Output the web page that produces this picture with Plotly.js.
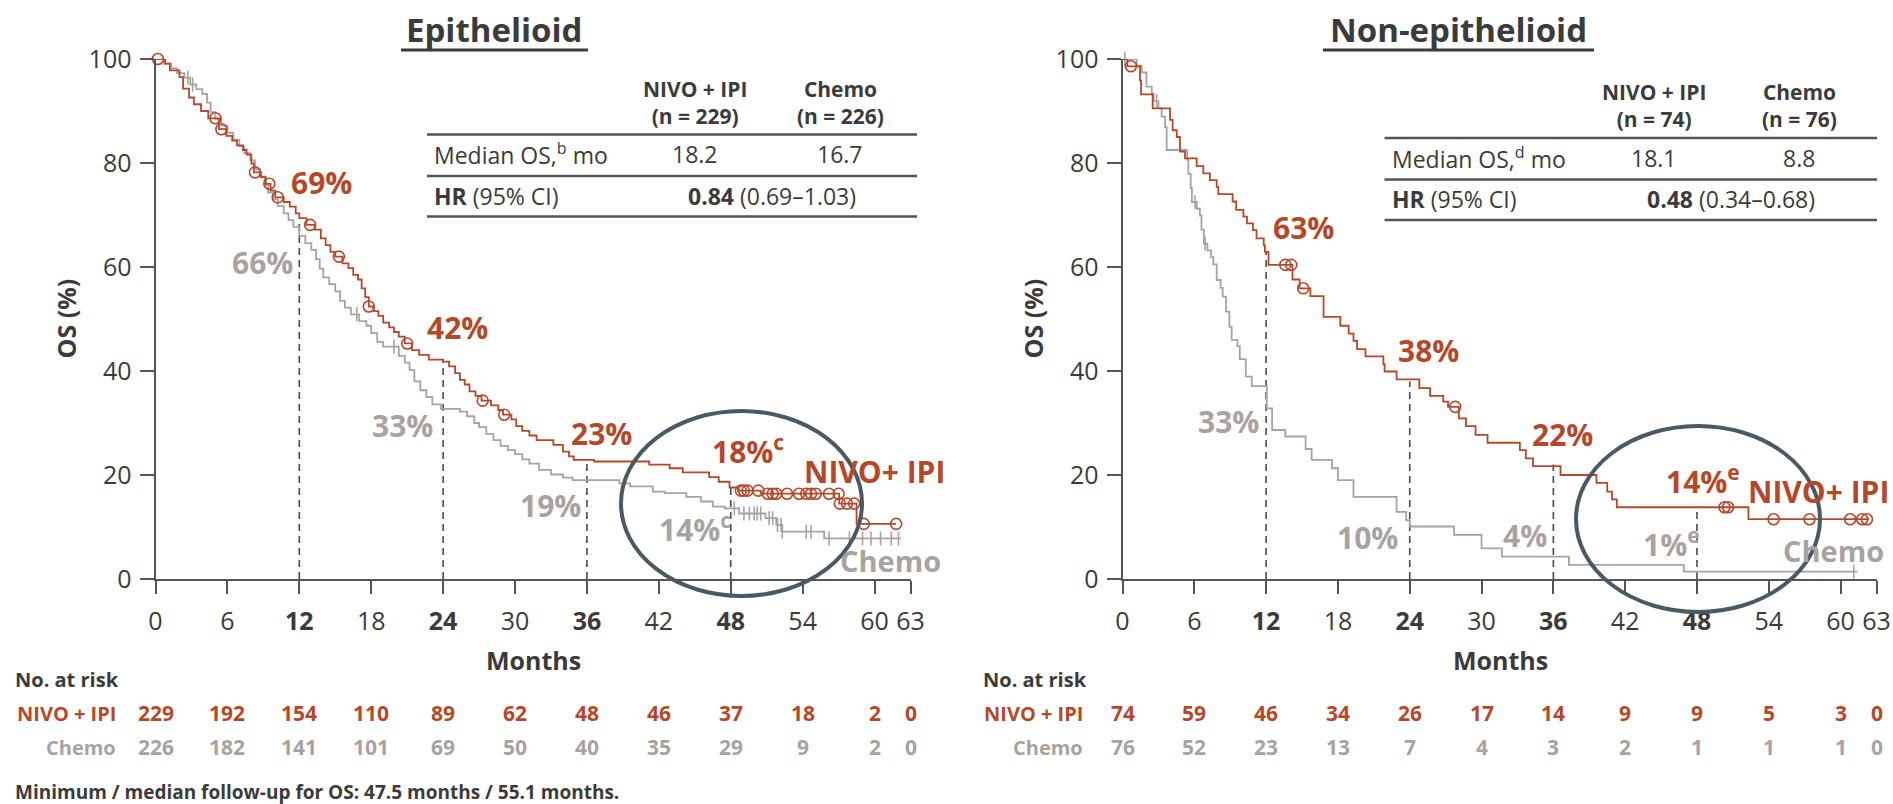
<!DOCTYPE html>
<html><head><meta charset="utf-8">
<script src="https://cdn.plot.ly/plotly-3.0.1.min.js"></script>
<style>html,body{margin:0;padding:0;background:#fff;overflow:hidden}#chart{width:1893px;height:804px}</style>
</head><body><div id="chart"></div>
<script>
// ---------------- DATA ----------------
// Epithelioid – NIVO + IPI (KM step points: month, OS %)
const epiNivoT = [0,0.8,1.2,2.0,2.3,2.8,3.2,3.8,4.4,5.3,5.9,6.4,6.8,7.3,7.6,8.0,8.2,8.8,9.2,9.6,10.0,10.7,11.2,11.7,12.0,12.6,13.3,13.8,14.2,14.6,15.0,15.6,16.1,16.5,16.9,17.2,17.5,17.8,18.2,18.6,19.0,19.5,19.9,20.3,20.8,21.4,22.0,22.8,24.0,24.5,25.0,25.4,25.8,26.2,26.7,27.2,28.0,28.6,29.0,29.7,30.1,30.6,31.2,31.8,33.2,34.0,34.5,34.9,36.6,41.2,42.9,44.0,46.2,47.0,47.9,48.6,50.5,57.05,58.5,61.8];
const epiNivoS = [100,99.1,97.8,96.5,94.3,92.6,91.3,90.0,88.6,86.5,85.2,84.3,83.4,82.5,81.6,79.9,78.2,77.3,76.0,74.7,73.4,72.5,71.6,70.3,69.4,68.1,67.2,65.5,64.2,62.9,62.0,60.7,59.8,58.5,57.6,55.9,54.2,52.4,51.5,50.6,49.3,48.4,47.5,46.6,45.3,44.0,43.1,42.2,41.8,40.9,39.6,38.3,37.4,36.1,35.2,34.3,33.4,32.5,31.6,30.7,29.4,28.5,27.6,26.7,25.8,24.5,23.6,22.9,22.6,22.0,21.3,20.5,19.6,18.7,17.6,17.0,16.4,14.5,10.6,10.6];
const epiNivoCensor = [0.2,5.0,5.5,8.3,9.5,10.2,12.9,15.3,17.8,21.0,27.3,29.1,48.85,49.1,49.4,50.3,51.1,51.5,51.8,52.7,53.7,54.3,54.7,55.1,56.2,57.0,57.1,57.7,58.3,59.1,61.8];

// Epithelioid – Chemo
const epiChemoT = [0,0.7,1.3,1.8,2.4,2.9,3.4,3.9,4.3,4.6,5.0,5.5,6.0,6.5,7.0,7.4,7.9,8.3,8.7,9.1,9.4,9.8,10.2,10.7,11.1,11.5,12.0,12.5,13.0,13.4,13.7,14.0,14.5,15.0,15.4,15.8,16.3,17.0,17.6,18.0,18.5,19.0,20.3,20.8,21.2,21.6,22.1,22.6,23.1,23.8,25.4,26.0,26.6,27.0,27.6,28.2,28.8,29.4,30.0,30.6,31.2,32.0,33.0,34.0,34.8,38.7,39.6,41.5,42.5,44.3,45.5,46.5,47.5,48.7,50.9,51.8,52.3,55.8,62.2];
const epiChemoS = [100,99.1,98.2,97.3,96.4,95.1,94.2,93.3,91.6,89.8,88.5,87.2,85.8,84.5,83.2,81.9,80.5,78.8,77.4,75.7,74.3,73.0,71.7,70.3,69.0,67.7,66.0,64.6,63.3,61.5,59.7,58.0,56.7,55.3,53.5,52.2,50.9,49.6,48.7,47.3,45.6,44.7,42.9,41.6,40.2,38.0,36.3,35.0,33.6,32.7,32.2,31.3,30.0,29.2,27.9,26.7,25.6,24.8,24.0,23.0,22.2,21.0,20.1,19.5,19.0,18.4,17.8,16.8,16.5,15.8,14.9,13.9,13.6,12.6,11.7,10.4,9.1,7.8,7.8];
const epiChemoCensor = [2.7,3.1,16.8,19.9,48.3,49.1,49.55,49.96,50.2,50.5,51.2,51.5,51.9,52.2,52.3,54.3,54.7,56.2,57.9,59.0,59.7,60.5,61.4,62.0];

// Non-epithelioid – NIVO + IPI
const nonNivoT = [0,0.4,1.46,1.55,2.52,3.97,4.19,4.53,4.8,5.22,6.2,6.75,7.3,7.87,8.0,9.2,9.5,10.1,10.4,10.9,11.2,11.8,11.9,12.2,14.2,14.8,15.7,16.8,18.2,18.9,19.3,19.6,20.3,21.8,21.9,22.9,24.8,25.7,26.8,27.2,28.1,28.7,29.5,30.5,33.2,33.7,34.3,36.6,39.6,40.5,40.9,41.3,52.3,62.4];
const nonNivoS = [100,98.6,95.9,93.2,90.5,88.3,86.3,85.0,82.2,80.9,79.4,78.0,76.7,75.4,74.0,72.6,71.0,69.7,68.4,67.1,65.5,64.2,62.9,60.4,57.6,55.9,54.4,50.4,48.7,47.2,45.8,44.2,42.8,41.3,39.9,38.4,36.7,35.2,34.1,33.1,30.9,29.4,27.7,26.2,24.8,23.2,21.7,20.0,18.5,16.8,15.3,13.8,11.5,11.5];
const nonNivoCensor = [0.7,13.6,14.1,15.1,27.8,50.3,50.6,54.4,57.4,60.8,61.8,62.2];

// Non-epithelioid – Chemo
const nonChemoT = [0,1.2,1.6,2.0,2.44,2.6,3.0,3.27,3.55,3.69,5.4,5.5,5.7,5.8,6.2,6.47,6.6,6.8,7.1,7.4,7.59,7.87,8.2,8.37,8.65,8.93,9.12,9.6,9.8,10.3,10.8,12.06,12.5,13.6,15.3,15.8,17.5,18.0,19.3,22.9,23.7,24.0,27.7,30.0,31.7,37.3,46.9,61.4];
const nonChemoS = [100,98.7,97.4,94.7,93.4,91.9,90.6,88.9,86.9,82.5,80.6,77.9,75.2,72.5,71.2,69.9,67.2,64.5,63.2,61.9,60.5,57.5,56.0,54.3,51.4,48.5,46.0,44.8,42.3,38.9,37.1,32.8,28.65,27.4,25.0,22.9,21.3,19.0,15.8,12.9,11.3,10.1,8.5,5.9,4.3,2.7,1.4,1.4];
const nonChemoCensor = [0.2,2.85,6.06,6.9,61.1];

// Landmark OS rates (months 12, 24, 36, 48)
const landmarkMonths = [12,24,36,48];
const epiLandmarkNivo = [69,42,23,18];
const epiLandmarkChemo = [66,33,19,14];
const nonLandmarkNivo = [63,38,22,14];
const nonLandmarkChemo = [33,10,4,1];
const epiFootnote = 'c';
const nonFootnote = 'e';

// Axis ticks
const xTicks = [0,6,12,18,24,30,36,42,48,54,60,63];
const yTicks = [0,20,40,60,80,100];

// Number at risk
const riskMonths = [0,6,12,18,24,30,36,42,48,54,60,63];
const epiRiskNivo = [229,192,154,110,89,62,48,46,37,18,2,0];
const epiRiskChemo = [226,182,141,101,69,50,40,35,29,9,2,0];
const nonRiskNivo = [74,59,46,34,26,17,14,9,9,5,3,0];
const nonRiskChemo = [76,52,23,13,7,4,3,2,1,1,1,0];

// Summary tables
const epiTable = {n:[229,226], median:['18.2','16.7'], hr:'0.84', ci:'(0.69–1.03)', sup:'b'};
const nonTable = {n:[74,76], median:['18.1','8.8'], hr:'0.48', ci:'(0.34–0.68)', sup:'d'};

// ---------------- STYLE / LAYOUT ----------------
const W = 1893, H = 804;
const RED = '#B4482B', GREY = '#A8A3A1', DARK = '#3b3b3b', AXISC = '#555555', RING = '#4A5A63';
const FONT = 'Open Sans';
const px = x => x / W;
const py = y => 1 - y / H;

function stepAt(T, S, t) { let v = S[0]; for (let i = 0; i < T.length; i++) { if (T[i] <= t) v = S[i]; } return v; }

function panelTraces(xa, ya, nT, nS, nC, cT, cS, cC, lmN) {
  const tr = [];
  const dx = [], dy = [];
  landmarkMonths.forEach((m, i) => { dx.push(m, m, null); dy.push(0, lmN[i], null); });
  tr.push({x: dx, y: dy, xaxis: xa, yaxis: ya, mode: 'lines', line: {color: '#4a4a4a', width: 1.6, dash: '7px,5px'}, hoverinfo: 'skip'});
  tr.push({x: cT, y: cS, xaxis: xa, yaxis: ya, mode: 'lines', line: {shape: 'hv', color: GREY, width: 1.8}, cliponaxis: false});
  tr.push({x: cC, y: cC.map(t => stepAt(cT, cS, t)), xaxis: xa, yaxis: ya, mode: 'markers', cliponaxis: false,
           marker: {symbol: 'line-ns-open', size: 10, color: GREY, line: {color: GREY, width: 1.6}}});
  tr.push({x: nT, y: nS, xaxis: xa, yaxis: ya, mode: 'lines', line: {shape: 'hv', color: RED, width: 1.8}, cliponaxis: false});
  tr.push({x: nC, y: nC.map(t => stepAt(nT, nS, t)), xaxis: xa, yaxis: ya, mode: 'markers', cliponaxis: false,
           marker: {symbol: 'circle-open', size: 11, color: RED, line: {color: RED, width: 1.6}}});
  return tr;
}

const data = [].concat(
  panelTraces('x', 'y', epiNivoT, epiNivoS, epiNivoCensor, epiChemoT, epiChemoS, epiChemoCensor, epiLandmarkNivo),
  panelTraces('x2', 'y2', nonNivoT, nonNivoS, nonNivoCensor, nonChemoT, nonChemoS, nonChemoCensor, nonLandmarkNivo)
);

const tickText = xTicks.map(t => (t === 12 || t === 24 || t === 36 || t === 48) ? '<b>' + t + '</b>' : String(t));
function xAxis(d0, d1, anchor) {
  return {domain: [px(d0), px(d1)], range: [0, 63], anchor: anchor, showgrid: false, zeroline: false,
    showline: true, linecolor: AXISC, linewidth: 2, ticks: 'outside', ticklen: 13, tickwidth: 2, tickcolor: AXISC,
    tickvals: xTicks, ticktext: tickText, tickfont: {family: FONT, size: 25, color: DARK}, ticklabelstandoff: 6, fixedrange: true};
}
function yAxis(anchor) {
  return {domain: [py(579), py(59)], range: [0, 100], anchor: anchor, showgrid: false, zeroline: false,
    showline: true, linecolor: AXISC, linewidth: 2, ticks: 'outside', ticklen: 14, tickwidth: 2, tickcolor: AXISC,
    tickvals: yTicks, tickfont: {family: FONT, size: 25, color: DARK}, ticklabelstandoff: 3, fixedrange: true};
}

const ann = [];
const shapes = [];
function txt(x, y, text, opts) {
  ann.push(Object.assign({x: px(x), y: py(y), xref: 'paper', yref: 'paper', text: text, showarrow: false,
    xanchor: 'center', yanchor: 'middle', font: {family: FONT, size: 23, color: DARK}}, opts || {}));
}
function hline(x0, x1, y, w, c) {
  shapes.push({type: 'line', xref: 'paper', yref: 'paper', x0: px(x0), x1: px(x1), y0: py(y), y1: py(y), line: {color: c, width: w}});
}

function panelDecor(p) {
  txt(p.titleX, 30, '<b>' + p.title + '</b>', {font: {family: FONT, size: 33, color: DARK}});
  hline(p.ulX0, p.ulX1, 50, 3, DARK);
  txt(p.x0 + 378, 660, '<b>Months</b>', {font: {family: FONT, size: 25, color: DARK}});
  txt(p.x0 - 90, 319, '<b>OS (%)</b>', {textangle: -90, font: {family: FONT, size: 25, color: DARK}});
  const t = p.table, ty = p.tableY;
  txt(p.col1, ty + 102, '<b>NIVO + IPI<br>(n = ' + t.n[0] + ')</b>', {font: {family: FONT, size: 21, color: DARK}});
  txt(p.col2, ty + 102, '<b>Chemo<br>(n = ' + t.n[1] + ')</b>', {font: {family: FONT, size: 21, color: DARK}});
  hline(p.tx0, p.tx1, ty + 134.5, 2.5, AXISC);
  hline(p.tx0, p.tx1, ty + 176, 2.5, AXISC);
  hline(p.tx0, p.tx1, ty + 216.5, 2.5, AXISC);
  txt(p.tx0 + 5, ty + 154, 'Median OS,<sup>' + t.sup + '</sup> mo', {xanchor: 'left'});
  txt(p.col1, ty + 154, t.median[0]);
  txt(p.col2, ty + 154, t.median[1]);
  txt(p.tx0 + 5, ty + 196, '<b>HR</b> (95% CI)', {xanchor: 'left'});
  txt(p.hrX, ty + 196, '<b>' + t.hr + '</b> ' + t.ci);
  shapes.push({type: 'circle', xref: 'paper', yref: 'paper', x0: px(p.ell[0]), x1: px(p.ell[1]), y0: py(p.ell[3]), y1: py(p.ell[2]),
    line: {color: RING, width: 4}});
  landmarkMonths.forEach((m, i) => {
    const isLast = i === landmarkMonths.length - 1;
    const sup = isLast ? '<sup>' + p.foot + '</sup>' : '';
    const oN = p.offN[i], oC = p.offC[i];
    ann.push({x: m, y: p.lmN[i], xref: p.xa, yref: p.ya, text: '<b>' + p.lmN[i] + '%' + sup + '</b>', showarrow: false,
      xanchor: isLast ? 'left' : 'center', yanchor: 'middle', xshift: oN[0], yshift: oN[1],
      font: {family: FONT, size: 30, color: RED}});
    ann.push({x: m, y: p.lmC[i], xref: p.xa, yref: p.ya, text: '<b>' + p.lmC[i] + '%' + sup + '</b>', showarrow: false,
      xanchor: isLast ? 'left' : 'center', yanchor: 'middle', xshift: oC[0], yshift: oC[1],
      font: {family: FONT, size: 30, color: GREY}});
  });
  txt(p.nivoLab[0], p.nivoLab[1], '<b>NIVO+ IPI</b>', {xanchor: 'left', font: {family: FONT, size: 30, color: RED}});
  txt(p.chemoLab[0], p.chemoLab[1], '<b>Chemo</b>', {xanchor: 'left', font: {family: FONT, size: 29, color: GREY}});
  txt(p.riskX0, 679, '<b>No. at risk</b>', {xanchor: 'left', font: {family: FONT, size: 20, color: DARK}});
  txt(p.riskLabX, 713, '<b>NIVO + IPI</b>', {xanchor: 'right', font: {family: FONT, size: 20, color: RED}});
  txt(p.riskLabX, 747, '<b>Chemo</b>', {xanchor: 'right', font: {family: FONT, size: 20, color: GREY}});
  riskMonths.forEach((m, i) => {
    ann.push({x: m, y: py(713), xref: p.xa, yref: 'paper', text: '<b>' + p.riskN[i] + '</b>', showarrow: false,
      xanchor: 'center', yanchor: 'middle', font: {family: FONT, size: 21, color: RED}});
    ann.push({x: m, y: py(747), xref: p.xa, yref: 'paper', text: '<b>' + p.riskC[i] + '</b>', showarrow: false,
      xanchor: 'center', yanchor: 'middle', font: {family: FONT, size: 21, color: GREY}});
  });
}

panelDecor({xa: 'x', ya: 'y', x0: 155.5, title: 'Epithelioid', titleX: 494.5, ulX0: 401, ulX1: 588,
  table: epiTable, tableY: 0, col1: 695, col2: 840, tx0: 427, tx1: 917, hrX: 771.5,
  ell: [621, 862, 411, 596], foot: epiFootnote, lmN: epiLandmarkNivo, lmC: epiLandmarkChemo,
  offN: [[22, 38], [14, 33], [15, 26], [-21, 35]], offC: [[-37, -27], [-41, -18], [-36, -25], [-74, -22]],
  nivoLab: [802, 471], chemoLab: [838, 560], riskX0: 13, riskLabX: 118, riskN: epiRiskNivo, riskC: epiRiskChemo});

panelDecor({xa: 'x2', ya: 'y2', x0: 1122.5, title: 'Non-epithelioid', titleX: 1458.5, ulX0: 1323, ulX1: 1594,
  table: nonTable, tableY: 3.5, col1: 1653.5, col2: 1799, tx0: 1384.5, tx1: 1877, hrX: 1731,
  ell: [1576, 1820, 426, 612], foot: nonFootnote, lmN: nonLandmarkNivo, lmC: nonLandmarkChemo,
  offN: [[37, 24], [19, 31], [9, 30], [-33, 26]], offC: [[-38, -14], [-42, -10], [-28, 23], [-56, 31]],
  nivoLab: [1746, 491.7], chemoLab: [1781, 550], riskX0: 981, riskLabX: 1085, riskN: nonRiskNivo, riskC: nonRiskChemo});

txt(13, 792, '<b>Minimum / median follow-up for OS: 47.5 months / 55.1 months.</b>', {xanchor: 'left', font: {family: FONT, size: 19, color: DARK}});

const layout = {
  width: W, height: H, margin: {l: 0, r: 0, t: 0, b: 0, pad: 0},
  paper_bgcolor: '#ffffff', plot_bgcolor: 'rgba(0,0,0,0)', showlegend: false, hovermode: false,
  font: {family: FONT, color: DARK},
  xaxis: xAxis(155.5, 910.5, 'y'), yaxis: yAxis('x'),
  xaxis2: xAxis(1122.5, 1876.5, 'y2'), yaxis2: yAxis('x2'),
  annotations: ann, shapes: shapes
};

Plotly.newPlot('chart', data, layout, {staticPlot: true, displayModeBar: false});
</script></body></html>
